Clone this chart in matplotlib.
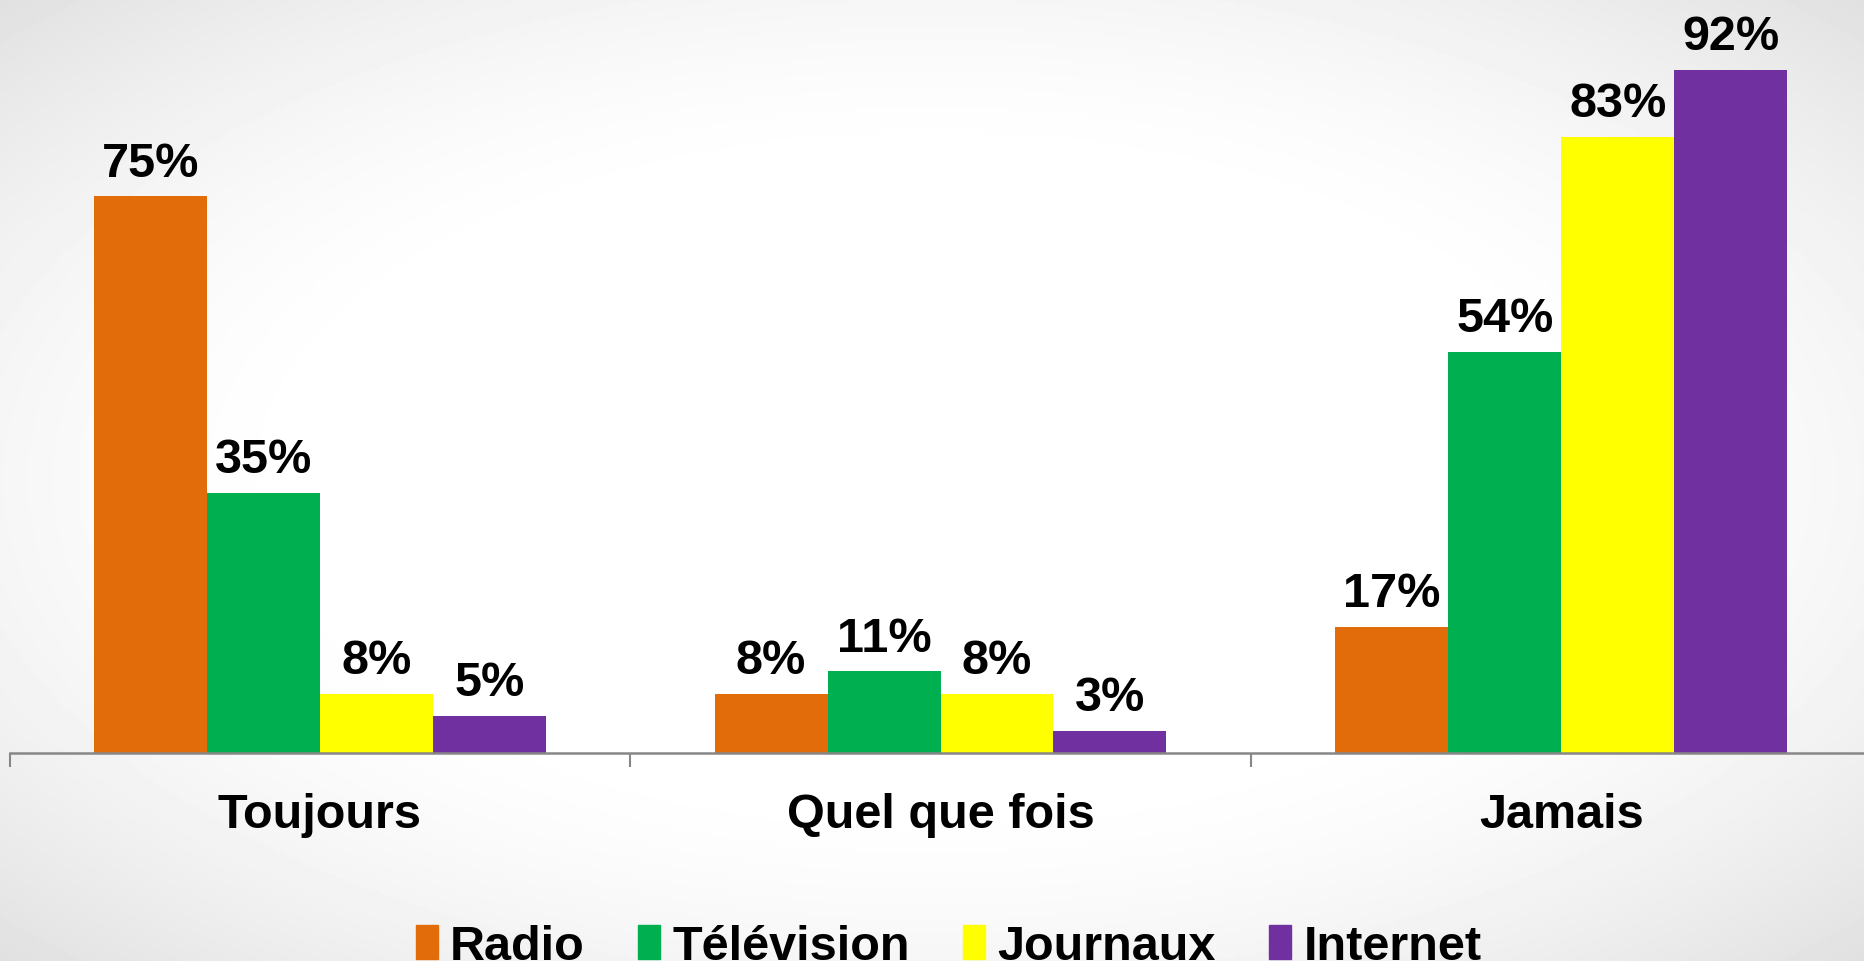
import matplotlib.pyplot as plt
import numpy as np
from matplotlib.patches import Patch

categories = ["Toujours", "Quel que fois", "Jamais"]
series = ["Radio", "Télévision", "Journaux", "Internet"]
radio = [75, 8, 17]
television = [35, 11, 54]
journaux = [8, 8, 83]
internet = [5, 3, 92]
colors = ["#E36C0A", "#00B050", "#FFFF00", "#7030A0"]

plt.rcParams["font.family"] = ["Liberation Sans", "DejaVu Sans"]
plt.rcParams["font.weight"] = "bold"

fig = plt.figure(figsize=(18.64, 9.62), dpi=100)

# fond dégradé radial (blanc au centre, gris clair aux coins)
bg = fig.add_axes([0, 0, 1, 1], zorder=-10)
yy, xx = np.mgrid[0:1:300j, 0:1:600j]
r = np.sqrt(((xx - 0.5) / 0.5) ** 2 + ((yy - 0.5) / 0.5) ** 2) / np.sqrt(2)
shade = 1.0 - 0.12 * np.clip((r - 0.45) / 0.55, 0, 1) ** 1.6
bg.imshow(shade, cmap="gray", vmin=0, vmax=1, aspect="auto", extent=[0, 1, 0, 1])
bg.axis("off")

ax = fig.add_axes([9.5 / 1864, 1 - 754 / 962, 1862 / 1864, 754 / 962])
ax.patch.set_alpha(0)

data = [radio, television, journaux, internet]
x = np.arange(len(categories)) + 0.5
w = 0.182
for i, (name, vals, c) in enumerate(zip(series, data, colors)):
    xs = x + (i - 1.5) * w
    ax.bar(xs, vals, w, color=c, label=name, zorder=2)
    for xi, v in zip(xs, vals):
        ax.annotate(f"{v}%", xy=(xi, v), xytext=(0, 15), textcoords="offset points",
                    ha="center", va="baseline", fontsize=35, fontweight="bold")

ax.set_xlim(0, 3)
ax.set_ylim(0, 101.6)
for s in ["top", "right", "left"]:
    ax.spines[s].set_visible(False)
ax.spines["bottom"].set_color("#878787")
ax.spines["bottom"].set_linewidth(1.8)
ax.set_yticks([])
ax.set_xticks([0, 1, 2, 3])
ax.set_xticklabels([])
ax.tick_params(axis="x", which="major", length=10, width=1.5, color="#878787")
ax.set_xticks(x, minor=True)
ax.set_xticklabels(categories, minor=True, fontsize=35, fontweight="bold")
ax.tick_params(axis="x", which="minor", length=0, pad=28)

handles = [Patch(color=c, label=n) for n, c in zip(series, colors)]
fig.legend(handles=handles, loc="upper center", bbox_to_anchor=(0.509, 0.038),
           ncol=4, frameon=False, fontsize=35, handlelength=0.45, handleheight=0.7,
           handletextpad=0.25, columnspacing=1.1, borderaxespad=0, borderpad=0)

fig.savefig("out.png", dpi=100)
